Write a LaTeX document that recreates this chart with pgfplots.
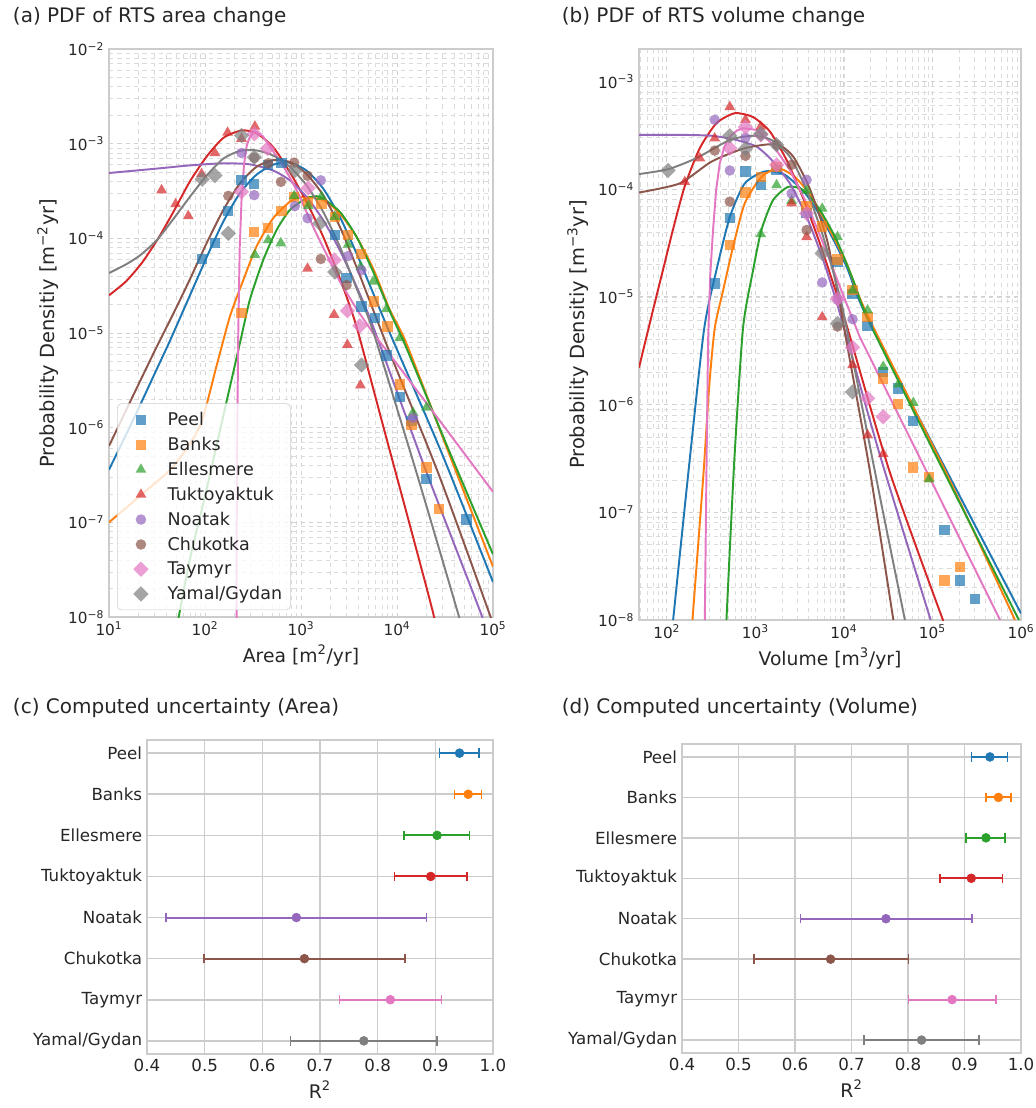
\documentclass[border=0pt]{standalone}
\usepackage{fontspec}
\setmainfont{DejaVu Sans}
\usepackage{pgfplots}
\pgfplotsset{compat=1.18}

\definecolor{c0}{HTML}{1F77B4}
\definecolor{c1}{HTML}{FF7F0E}
\definecolor{c2}{HTML}{2CA02C}
\definecolor{c3}{HTML}{D62728}
\definecolor{c4}{HTML}{9467BD}
\definecolor{c5}{HTML}{8C564B}
\definecolor{c6}{HTML}{E377C2}
\definecolor{c7}{HTML}{7F7F7F}
\definecolor{txt}{HTML}{262626}
\definecolor{gridc}{HTML}{CCCCCC}

\newcommand{\logtick}[1]{\pgfmathtruncatemacro{\myexp}{round(#1)}10\textsuperscript{\ifnum\myexp<0 −\the\numexpr-\myexp\relax\else\myexp\fi}}

\pgfplotsset{
  sq/.style={only marks, color=#1, mark=square*, mark size=3.7pt, mark options={fill=#1, draw opacity=0, fill opacity=0.7}},
  tri/.style={only marks, color=#1, mark=triangle*, mark size=4.5pt, mark options={fill=#1, draw opacity=0, fill opacity=0.7}},
  cir/.style={only marks, color=#1, mark=*, mark size=3.8pt, mark options={fill=#1, draw opacity=0, fill opacity=0.7}},
  dia/.style={only marks, color=#1, mark=square*, mark size=3.9pt, mark options={fill=#1, draw opacity=0, fill opacity=0.7, rotate=45}},
  pdffit/.style={no markers, color=#1, line width=1.4pt, forget plot, smooth, tension=0.4},
  pdffitp/.style={no markers, color=#1, line width=1.4pt, forget plot},
  eb/.style={color=#1, mark=*, mark size=3.2pt, mark options={fill=#1, draw=#1}},
}

\begin{document}
\begin{tikzpicture}
\useasboundingbox (0,0) rectangle (745.2pt,797.76pt);

\node[anchor=west, font=\fontsize{14.4}{16}\selectfont, text=txt] at (5.8pt,785.5pt) {(a) PDF of RTS area change};
\node[anchor=west, font=\fontsize{14.4}{16}\selectfont, text=txt] at (401pt,785.5pt) {(b) PDF of RTS volume change};
\node[anchor=west, font=\fontsize{14.4}{16}\selectfont, text=txt] at (5.8pt,288pt) {(c) Computed uncertainty (Area)};
\node[anchor=west, font=\fontsize{14.4}{16}\selectfont, text=txt] at (401pt,288pt) {(d) Computed uncertainty (Volume)};

% (a) area PDF
\begin{axis}[scale only axis, xmode=log, ymode=log, log basis x=10, log basis y=10,
  at={(78.48pt,353.52pt)}, anchor=south west, width=276.48pt, height=408.96pt,
  xmin=10, xmax=1e5, ymin=1e-8, ymax=1e-2,
  grid=both, major grid style={gridc!90, dashed, line width=0.6pt},
  minor grid style={gridc!70, dashed, line width=0.45pt},
  axis line style={gridc, line width=1pt}, tick style={draw=none},
  xticklabel={\logtick{\tick}}, yticklabel={\logtick{\tick}},
  ticklabel style={font=\fontsize{11}{12}\selectfont, text=txt},
  xlabel style={font=\fontsize{13.5}{15}\selectfont, text=txt},
  ylabel style={font=\fontsize{14}{15}\selectfont, text=txt},
  xlabel={Area [m\textsuperscript{2}/yr]}, ylabel={Probability Densitiy [m\textsuperscript{−2}yr]},
  legend style={at={(0.021,0.012)}, anchor=south west, draw=gridc, rounded corners=3pt,
    fill=white, fill opacity=0.8, text opacity=1, font=\fontsize{12.6}{14}\selectfont, text=txt,
    row sep=2.9pt, inner xsep=4pt, inner ysep=4pt},
  legend image code/.code={\path (0cm,0cm) (1.05cm,0cm); \draw[#1] plot coordinates {(0.45cm,0cm)};},
  legend cell align=left]
\addplot[sq=c0] coordinates {(93.6,6.1e-5) (127,8.9e-5) (175,1.94e-4) (240,4.1e-4) (326,3.73e-4) (455,5.9e-4) (627,6.2e-4) (2250,1.08e-4) (2977,3.8e-5) (4266,1.91e-5) (5867,1.44e-5) (7760,5.8e-6) (10680,2.1e-6) (14130,1.17e-6) (20240,2.86e-7) (52800,1.07e-7)};
\addlegendentry{Peel}
\addplot[sq=c1] coordinates {(240,1.63e-5) (326,1.17e-4) (455,1.29e-4) (627,1.94e-4) (849,2.75e-4) (1189,2.43e-4) (1637,2.3e-4) (2250,1.69e-4) (3098,1.08e-4) (4200,6.8e-5) (5780,2.15e-5) (7943,1.17e-5) (10690,2.86e-6) (14130,1.06e-6) (20240,3.8e-7) (27400,1.38e-7)};
\addlegendentry{Banks}
\addplot[tri=c2] coordinates {(331,6.7e-5) (455,9.6e-5) (617,8.9e-5) (849,2.81e-4) (1189,2.2e-4) (1637,2.75e-4) (2250,1.69e-4) (3098,8.6e-5) (4200,5.0e-5) (5640,3.5e-5) (7760,1.79e-5) (10690,8.9e-6) (14690,1.44e-6) (20240,1.63e-6)};
\addlegendentry{Ellesmere}
\addplot[tri=c3] coordinates {(35.3,3.23e-4) (49.4,2.3e-4) (67,1.72e-4) (92,4.8e-4) (127,7.97e-4) (172,1.31e-3) (240,1.13e-3) (331,1.52e-3) (1170,4.8e-5) (2213,1.56e-5) (3048,7.5e-6) (4160,2.8e-6)};
\addlegendentry{Tuktoyaktuk}
\addplot[cir=c4] coordinates {(240,7.97e-4) (326,2.86e-4) (863,2.19e-4) (1170,1.63e-4) (1608,4.1e-4) (3098,6.5e-5) (4266,4.6e-5) (14690,1.27e-6)};
\addlegendentry{Noatak}
\addplot[cir=c5] coordinates {(175,2.81e-4) (326,7.1e-4) (455,6.2e-4) (617,3.95e-4) (849,6.3e-4) (1170,4.57e-4) (1608,6.05e-5) (2980,3.2e-5)};
\addlegendentry{Chukotka}
\addplot[dia=c6] coordinates {(240,3.1e-4) (326,1.27e-3) (448,8.9e-4) (1189,3.4e-4) (2213,5.9e-5) (3048,1.72e-5) (4093,1.19e-5)};
\addlegendentry{Taymyr}
\addplot[dia=c7] coordinates {(93.6,4.2e-4) (127,4.6e-4) (175,1.13e-4) (240,1.22e-3) (326,7.2e-4) (863,5.2e-4) (1570,1.44e-4) (2250,4.4e-5) (4266,4.6e-6)};
\addlegendentry{Yamal/Gydan}
% fitted curves
\addplot[pdffit=c0] coordinates {(10,3.6e-7) (17.8,1.2e-6) (31.6,4.2e-6) (43.2,8.3e-6) (69.7,2.5e-5) (104,6.3e-5) (155,1.5e-4) (231,3.0e-4) (344,4.7e-4) (513,6.0e-4) (765,6.3e-4) (1140,5.2e-4) (1702,3.36e-4) (2535,1.69e-4) (3784,6.95e-5) (5640,2.64e-5) (8414,1.0e-5) (29000,5.5e-7) (1e5,2.34e-8)};
\addplot[pdffit=c1] coordinates {(10,1e-7) (21,1.9e-7) (46.8,3.9e-7) (88.6,1.04e-6) (132,4.5e-6) (182,1.5e-5) (250,3.6e-5) (344,8.2e-5) (513,1.63e-4) (765,2.43e-4) (1054,2.75e-4) (1702,2.54e-4) (2535,1.83e-4) (3784,1.04e-4) (5640,4.8e-5) (8414,1.76e-5) (12500,7.8e-6) (35400,5.1e-7) (1e5,3.4e-8)};
\addplot[pdffit=c2] coordinates {(52.7,9.5e-9) (69.7,4.1e-8) (104,2.24e-7) (155,1.33e-6) (231,7.8e-6) (293,2.24e-5) (404,5.9e-5) (556,1.22e-4) (765,1.99e-4) (1140,2.64e-4) (1570,2.75e-4) (2535,1.91e-4) (3784,1.04e-4) (5640,4.46e-5) (8414,1.69e-5) (12500,7.0e-6) (35400,5.5e-7) (1e5,4.6e-8)};
\addplot[pdffit=c3] coordinates {(10,2.5e-5) (15,3.5e-5) (22,5.5e-5) (32.6,1.0e-4) (46.8,1.9e-4) (69.7,4.0e-4) (104,7.3e-4) (155,1.15e-3) (240,1.38e-3) (344,1.29e-3) (513,9.2e-4) (765,5.0e-4) (1140,2.43e-4) (1702,1.04e-4) (2535,3.8e-5) (3784,1.17e-5) (7160,1.05e-6) (23800,1.1e-8) (30000,3e-9)};
\addplot[pdffit=c4] coordinates {(10,4.9e-4) (31.3,5.45e-4) (69.7,5.9e-4) (155,6.2e-4) (293,6.05e-4) (513,5.2e-4) (765,4.1e-4) (1140,2.75e-4) (1702,1.56e-4) (2535,7.5e-5) (3784,3.1e-5) (5640,1.17e-5) (20240,3.4e-7) (78700,9.5e-9) (90000,5e-9)};
\addplot[pdffit=c5] coordinates {(10,6.4e-7) (17.9,2.2e-6) (31.3,7.1e-6) (46.8,1.6e-5) (69.7,3.7e-5) (104,8.9e-5) (155,1.99e-4) (231,3.8e-4) (344,5.7e-4) (513,6.7e-4) (765,6.4e-4) (1140,4.8e-4) (1702,2.86e-4) (2535,1.33e-4) (3784,5.0e-5) (5640,1.76e-5) (8414,6.2e-6) (27900,3.0e-7) (96200,9.5e-9) (1e5,8e-9)};
\addplot[pdffitp=c6] coordinates {(213,5e-9) (214,1e-7) (217,1e-6) (222,1e-5) (230,8e-5) (240,2.5e-4) (255,6e-4) (272,9.5e-4) (290,1.15e-3) (330,1.35e-3) (400,1.2e-3) (513,8.3e-4) (640,6.0e-4) (765,4.4e-4) (950,2.9e-4) (1140,1.9e-4) (1400,1.2e-4) (1702,8e-5) (2535,3.5e-5) (3784,1.8e-5) (5620,1e-5) (10000,4.7e-6) (31600,1e-6) (1e5,2.1e-7)};
\addplot[pdffit=c7] coordinates {(10,4.3e-5) (15,5.3e-5) (21,6.6e-5) (31.3,9.5e-5) (46.8,1.6e-4) (69.7,2.75e-4) (104,4.6e-4) (155,6.95e-4) (231,8.4e-4) (344,8.5e-4) (513,7.5e-4) (765,5.7e-4) (1140,3.64e-4) (1702,1.91e-4) (2535,8.2e-5) (3784,2.98e-5) (5640,1.04e-5) (15900,3.4e-7) (45000,9.5e-9) (50000,6e-9)};
\end{axis}

% (b) volume PDF
\begin{axis}[scale only axis, xmode=log, ymode=log, log basis x=10, log basis y=10,
  at={(460.08pt,351.36pt)}, anchor=south west, width=275.04pt, height=411.12pt,
  xmin=48.6, xmax=1e6, ymin=1e-8, ymax=2e-3,
  grid=both, major grid style={gridc!90, dashed, line width=0.6pt},
  minor grid style={gridc!70, dashed, line width=0.45pt},
  axis line style={gridc, line width=1pt}, tick style={draw=none},
  xticklabel={\logtick{\tick}}, yticklabel={\logtick{\tick}},
  ticklabel style={font=\fontsize{11}{12}\selectfont, text=txt},
  xlabel style={font=\fontsize{13.5}{15}\selectfont, text=txt},
  ylabel style={font=\fontsize{14}{15}\selectfont, text=txt},
  xlabel={Volume [m\textsuperscript{3}/yr]}, ylabel={Probability Densitiy [m\textsuperscript{−3}yr]}]
\addplot[sq=c0] coordinates {(348,1.33e-5) (515,5.4e-5) (774,1.46e-4) (1153,1.09e-4) (1738,1.51e-4) (3793,6.0e-5) (8470,2.1e-5) (12530,1.07e-5) (18530,5.4e-6) (27800,2.02e-6) (41100,1.41e-6) (60800,7.0e-7) (136500,6.9e-8) (205000,2.33e-8) (303000,1.56e-8)};
\addplot[sq=c1] coordinates {(515,3.03e-5) (774,9.3e-5) (1153,1.3e-4) (1738,1.6e-4) (3793,7e-5) (5690,4.5e-5) (8470,2.22e-5) (12530,1.15e-5) (18530,6.5e-6) (27800,1.75e-6) (41100,1.02e-6) (60800,2.61e-7) (91600,2.11e-7) (136500,2.33e-8) (205000,3.1e-8)};
\addplot[tri=c2] coordinates {(1153,3.83e-5) (1738,1.09e-4) (2565,7.8e-5) (3793,9.7e-5) (5690,6.6e-5) (8470,3.6e-5) (12530,1.15e-5) (18530,7.5e-6) (27800,2.25e-6) (41100,1.54e-6) (60800,1.04e-6) (91600,2.03e-7)};
\addplot[tri=c3] coordinates {(160,1.17e-4) (236,1.94e-4) (348,2.97e-4) (515,5.8e-4) (774,4.4e-4) (1153,3.81e-4) (2565,7.4e-5) (3793,3.6e-5) (5690,6.5e-6) (12530,2.33e-6) (18530,5.2e-7) (27800,3.48e-7)};
\addplot[cir=c4] coordinates {(348,4.4e-4) (515,1.49e-4) (774,3.0e-4) (2565,9.1e-5) (3793,1.22e-4) (5690,1.36e-5) (8470,9.4e-6) (12530,6.2e-6)};
\addplot[cir=c5] coordinates {(348,2.28e-4) (515,7.65e-5) (774,2.04e-4) (1738,2.58e-4) (2565,1.68e-4) (3793,4.17e-5) (8470,5.3e-6)};
\addplot[dia=c6] coordinates {(515,2.4e-4) (774,3.76e-4) (1153,3.19e-4) (1738,1.68e-4) (3793,5.96e-5) (8470,9.6e-6) (12530,3.39e-6) (18530,1.14e-6) (27800,7.7e-7)};
\addplot[dia=c7] coordinates {(103.5,1.49e-4) (515,3.13e-4) (774,2.37e-4) (1153,3.26e-4) (1738,2.58e-4) (5690,2.53e-5) (8470,5.65e-6) (12530,1.31e-6)};
% fitted curves
\addplot[pdffit=c0] coordinates {(118,1e-8) (174,2.2e-7) (263,4.9e-6) (364,1.77e-5) (515,5.5e-5) (760,1.13e-4) (1279,1.46e-4) (2153,1.36e-4) (3793,8.8e-5) (6380,4.48e-5) (10740,1.9e-5) (18100,6.5e-6) (135000,2.7e-7) (1e6,1.15e-8)};
\addplot[pdffit=c1] coordinates {(195,1e-8) (259,2.2e-7) (300,1.4e-6) (348,5.1e-6) (433,1.15e-5) (561,2.92e-5) (760,7.4e-5) (1175,1.3e-4) (1811,1.56e-4) (2793,1.3e-4) (4313,8.5e-5) (6650,4.48e-5) (10740,2.04e-5) (18100,7.0e-6) (140000,2.4e-7) (855000,1e-8)};
\addplot[pdffit=c2] coordinates {(472,1e-8) (578,2.95e-7) (726,5.1e-6) (944,1.77e-5) (1172,4.17e-5) (1585,7.9e-5) (2350,1.05e-4) (3475,9.8e-5) (5360,6.4e-5) (8270,3.37e-5) (12740,1.43e-5) (19700,5.65e-6) (150000,2.0e-7) (948000,1e-8)};
\addplot[pdffit=c3] coordinates {(48.6,2.2e-6) (60,4.5e-6) (75,9.5e-6) (91,1.8e-5) (120,4.5e-5) (160,1.07e-4) (236,2.4e-4) (364,4.09e-4) (586,5.07e-4) (944,4.66e-4) (1458,3.43e-4) (2250,1.87e-4) (3475,8.2e-5) (5360,3.13e-5) (8270,1.07e-5) (11000,5.1e-6) (33100,2.34e-7) (132500,9.8e-9)};
\addplot[pdffit=c4] coordinates {(48.6,3.19e-4) (140,3.19e-4) (320,3.13e-4) (612,2.86e-4) (1030,2.48e-4) (1524,1.87e-4) (2455,1.13e-4) (3793,5.55e-5) (5850,2.19e-5) (9020,7.0e-6) (25500,3.4e-7) (95500,1e-8)};
\addplot[pdffit=c5] coordinates {(48.6,9.3e-5) (140,1.13e-4) (320,1.8e-4) (760,2.4e-4) (1738,2.61e-4) (2680,2.0e-4) (4140,1.0e-4) (6380,3.5e-5) (8500,1.1e-5) (10500,4.2e-6) (19700,2.4e-7) (36200,1e-8)};
\addplot[pdffitp=c6] coordinates {(269,1e-8) (280,2e-7) (293,4e-6) (310,1.6e-5) (333,4.17e-5) (362,1e-4) (397,1.74e-4) (450,2.5e-4) (515,3.08e-4) (620,3.5e-4) (728,3.68e-4) (1030,3.55e-4) (1524,2.67e-4) (2455,1.51e-4) (3793,7.4e-5) (5850,3.13e-5) (9020,1.24e-5) (15100,4.25e-6) (100000,1.86e-7) (580000,1e-8)};
\addplot[pdffit=c7] coordinates {(48.6,1.38e-4) (103.5,1.53e-4) (216,1.94e-4) (515,2.86e-4) (944,3.13e-4) (1524,2.86e-4) (2455,2.0e-4) (3793,9.8e-5) (5850,3.6e-5) (9020,1e-5) (10740,5.1e-6) (25500,1.4e-7) (48900,1e-8)};
\end{axis}

% (c) R2 area
\begin{axis}[scale only axis, at={(105.84pt,38.88pt)}, anchor=south west, width=249.12pt, height=226.08pt,
  xmin=0.4, xmax=1.0, ymin=-0.32, ymax=7.32, y dir=reverse,
  xtick={0.4,0.5,0.6,0.7,0.8,0.9,1.0}, ytick={0,1,2,3,4,5,6,7},
  yticklabels={Peel,Banks,Ellesmere,Tuktoyaktuk,Noatak,Chukotka,Taymyr,Yamal/Gydan},
  grid=major, major grid style={gridc, line width=1.1pt},
  axis line style={gridc, line width=1.3pt}, tick style={draw=none},
  xticklabel style={/pgf/number format/.cd, fixed, fixed zerofill, precision=1, assume math mode=true},
  ticklabel style={font=\fontsize{12}{14}\selectfont, text=txt},
  label style={font=\fontsize{13.5}{15}\selectfont, text=txt},
  xlabel={R\textsuperscript{2}}]
\addplot[eb=c0, error bars/.cd, x dir=both, x explicit, error mark=|, error bar style={line width=1.4pt}, error mark options={line width=1.1pt, mark size=3.4pt}] coordinates {(0.942,0) += (0.034,0) -= (0.035,0)};
\addplot[eb=c1, error bars/.cd, x dir=both, x explicit, error mark=|, error bar style={line width=1.4pt}, error mark options={line width=1.1pt, mark size=3.4pt}] coordinates {(0.957,1) += (0.023,0) -= (0.024,0)};
\addplot[eb=c2, error bars/.cd, x dir=both, x explicit, error mark=|, error bar style={line width=1.4pt}, error mark options={line width=1.1pt, mark size=3.4pt}] coordinates {(0.903,2) += (0.056,0) -= (0.057,0)};
\addplot[eb=c3, error bars/.cd, x dir=both, x explicit, error mark=|, error bar style={line width=1.4pt}, error mark options={line width=1.1pt, mark size=3.4pt}] coordinates {(0.892,3) += (0.063,0) -= (0.063,0)};
\addplot[eb=c4, error bars/.cd, x dir=both, x explicit, error mark=|, error bar style={line width=1.4pt}, error mark options={line width=1.1pt, mark size=3.4pt}] coordinates {(0.659,4) += (0.226,0) -= (0.226,0)};
\addplot[eb=c5, error bars/.cd, x dir=both, x explicit, error mark=|, error bar style={line width=1.4pt}, error mark options={line width=1.1pt, mark size=3.4pt}] coordinates {(0.673,5) += (0.174,0) -= (0.174,0)};
\addplot[eb=c6, error bars/.cd, x dir=both, x explicit, error mark=|, error bar style={line width=1.4pt}, error mark options={line width=1.1pt, mark size=3.4pt}] coordinates {(0.822,6) += (0.089,0) -= (0.088,0)};
\addplot[eb=c7, error bars/.cd, x dir=both, x explicit, error mark=|, error bar style={line width=1.4pt}, error mark options={line width=1.1pt, mark size=3.4pt}] coordinates {(0.776,7) += (0.127,0) -= (0.127,0)};
\end{axis}

% (d) R2 volume
\begin{axis}[scale only axis, at={(491.04pt,39.6pt)}, anchor=south west, width=244.08pt, height=222.48pt,
  xmin=0.4, xmax=1.0, ymin=-0.32, ymax=7.32, y dir=reverse,
  xtick={0.4,0.5,0.6,0.7,0.8,0.9,1.0}, ytick={0,1,2,3,4,5,6,7},
  yticklabels={Peel,Banks,Ellesmere,Tuktoyaktuk,Noatak,Chukotka,Taymyr,Yamal/Gydan},
  grid=major, major grid style={gridc, line width=1.1pt},
  axis line style={gridc, line width=1.3pt}, tick style={draw=none},
  xticklabel style={/pgf/number format/.cd, fixed, fixed zerofill, precision=1, assume math mode=true},
  ticklabel style={font=\fontsize{12}{14}\selectfont, text=txt},
  label style={font=\fontsize{13.5}{15}\selectfont, text=txt},
  xlabel={R\textsuperscript{2}}]
\addplot[eb=c0, error bars/.cd, x dir=both, x explicit, error mark=|, error bar style={line width=1.4pt}, error mark options={line width=1.1pt, mark size=3.4pt}] coordinates {(0.945,0) += (0.031,0) -= (0.033,0)};
\addplot[eb=c1, error bars/.cd, x dir=both, x explicit, error mark=|, error bar style={line width=1.4pt}, error mark options={line width=1.1pt, mark size=3.4pt}] coordinates {(0.960,1) += (0.022,0) -= (0.022,0)};
\addplot[eb=c2, error bars/.cd, x dir=both, x explicit, error mark=|, error bar style={line width=1.4pt}, error mark options={line width=1.1pt, mark size=3.4pt}] coordinates {(0.938,2) += (0.034,0) -= (0.035,0)};
\addplot[eb=c3, error bars/.cd, x dir=both, x explicit, error mark=|, error bar style={line width=1.4pt}, error mark options={line width=1.1pt, mark size=3.4pt}] coordinates {(0.912,3) += (0.055,0) -= (0.055,0)};
\addplot[eb=c4, error bars/.cd, x dir=both, x explicit, error mark=|, error bar style={line width=1.4pt}, error mark options={line width=1.1pt, mark size=3.4pt}] coordinates {(0.761,4) += (0.152,0) -= (0.151,0)};
\addplot[eb=c5, error bars/.cd, x dir=both, x explicit, error mark=|, error bar style={line width=1.4pt}, error mark options={line width=1.1pt, mark size=3.4pt}] coordinates {(0.663,5) += (0.138,0) -= (0.136,0)};
\addplot[eb=c6, error bars/.cd, x dir=both, x explicit, error mark=|, error bar style={line width=1.4pt}, error mark options={line width=1.1pt, mark size=3.4pt}] coordinates {(0.878,6) += (0.078,0) -= (0.077,0)};
\addplot[eb=c7, error bars/.cd, x dir=both, x explicit, error mark=|, error bar style={line width=1.4pt}, error mark options={line width=1.1pt, mark size=3.4pt}] coordinates {(0.824,7) += (0.102,0) -= (0.102,0)};
\end{axis}
\end{tikzpicture}
\end{document}
